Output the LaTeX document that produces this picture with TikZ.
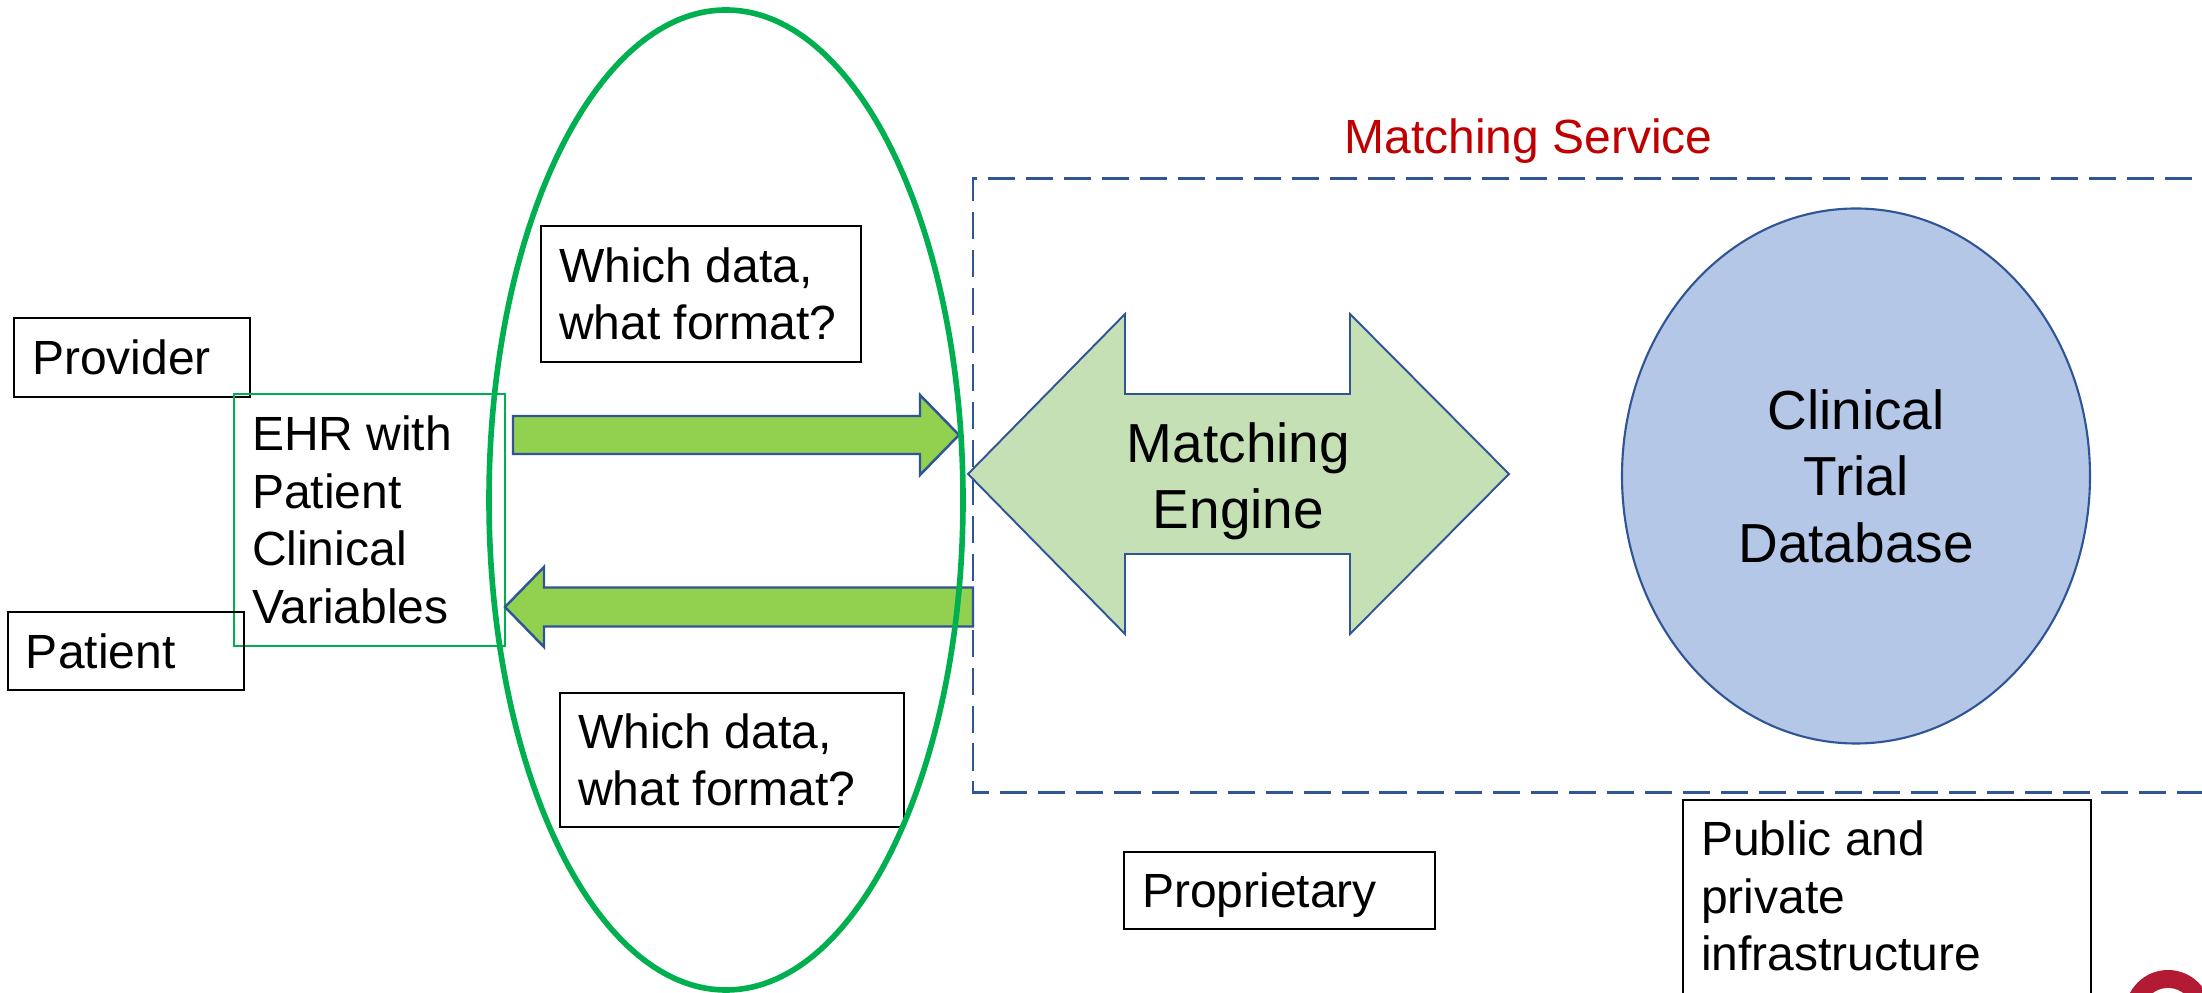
\documentclass[tikz,border=0pt]{standalone}
\usepackage{fontspec}
\setmainfont{Liberation Sans}
\usetikzlibrary{positioning,shapes.geometric}

\definecolor{ringgreen}{HTML}{00B050}
\definecolor{flowgreen}{HTML}{92D050}
\definecolor{enginegreen}{HTML}{C5E0B4}
\definecolor{dbblue}{HTML}{B4C7E7}
\definecolor{edgeblue}{HTML}{2F5597}
\definecolor{servicered}{HTML}{C00000}
\definecolor{logored}{HTML}{B31B34}

\begin{document}
\begin{tikzpicture}[
    every node/.style={font=\fontsize{13.66pt}{16.36pt}\selectfont},
    tagbox/.style={draw=black, line width=0.6pt, inner xsep=0.18cm, inner ysep=0pt, align=flush left},
    ehrbox/.style={tagbox, draw=ringgreen, line width=0.45pt},
    bigtext/.style={font=\fontsize{15.65pt}{18.9pt}\selectfont, align=center},
    flow/.style={fill=flowgreen, draw=edgeblue, line width=0.7pt},
    enginearrow/.style={fill=enginegreen, draw=edgeblue, line width=0.55pt},
    servicebox/.style={draw=edgeblue, line width=0.75pt, dash pattern=on 7.7pt off 3.1pt}
  ]
  \useasboundingbox[fill=white] (0,0) rectangle (22.02,9.93);

  % who holds the record
  \node[tagbox, text width=2.00cm, minimum height=0.79cm, text depth=0pt] (provider) at (1.32,6.355) {Provider};
  \node[ehrbox, text width=2.35cm, minimum height=2.52cm] (ehr) at (3.695,4.73) {EHR with\\Patient\\Clinical\\Variables};
  \node[tagbox, text width=2.00cm, minimum height=0.78cm, text depth=0pt] (patient) at (1.26,3.42) {Patient};

  % questions at the interface
  \node[tagbox, text width=2.84cm, minimum height=1.36cm] (askout) at (7.01,6.99) {Which data,\\what format?};
  \node[tagbox, text width=3.08cm, minimum height=1.34cm] (askback) at (7.32,2.33) {Which data,\\what format?};

  % block arrows
  \draw[flow] (5.13,5.77) -- (9.20,5.77) -- (9.20,5.98) -- (9.59,5.58) -- (9.20,5.18) -- (9.20,5.39) -- (5.13,5.39) -- cycle; % to the engine
  \draw[flow] (5.05,3.86) -- (5.44,4.26) -- (5.44,4.055) -- (9.73,4.055) -- (9.73,3.665) -- (5.44,3.665) -- (5.44,3.46) -- cycle; % back to the EHR

  % matching engine (double arrow)
  \draw[enginearrow] (9.68,5.19) -- (11.25,6.79) -- (11.25,5.99) -- (13.50,5.99) -- (13.50,6.79) -- (15.09,5.19)
    -- (13.50,3.59) -- (13.50,4.39) -- (11.25,4.39) -- (11.25,3.59) -- cycle;
  \node[bigtext] (engine) at (12.385,5.12) {Matching\\Engine};

  % trial database
  \node[ellipse, bigtext, fill=dbblue, draw=edgeblue, line width=0.6pt, minimum width=4.68cm, minimum height=5.35cm, inner sep=0pt] (db) at (18.56,5.17) {Clinical\\Trial\\Database};

  % service boundary, open to the right
  \draw[servicebox] (22.3,8.145) -- (9.73,8.145) -- (9.73,2.005) -- (22.3,2.005);
  \node[text=servicered, anchor=base] (service) at (15.285,8.39) {Matching Service};

  % who runs what
  \node[tagbox, text width=2.75cm, minimum height=0.77cm, text depth=0pt] (proprietary) at (12.795,1.025) {Proprietary};
  \node[tagbox, text width=3.72cm, minimum height=2.00cm] (public) at (18.87,0.93) {Public and\\private\\infrastructure\rule[-0.08cm]{0pt}{0pt}};

  % interoperability ring
  \draw[ringgreen, line width=1.6pt] (7.26,4.93) ellipse [x radius=2.37, y radius=4.90];

  % logo in the corner
  \fill[logored] (21.68,-0.20) circle [radius=0.43];
  \fill[white] (21.68,-0.20) circle [radius=0.25];
\end{tikzpicture}
\end{document}
